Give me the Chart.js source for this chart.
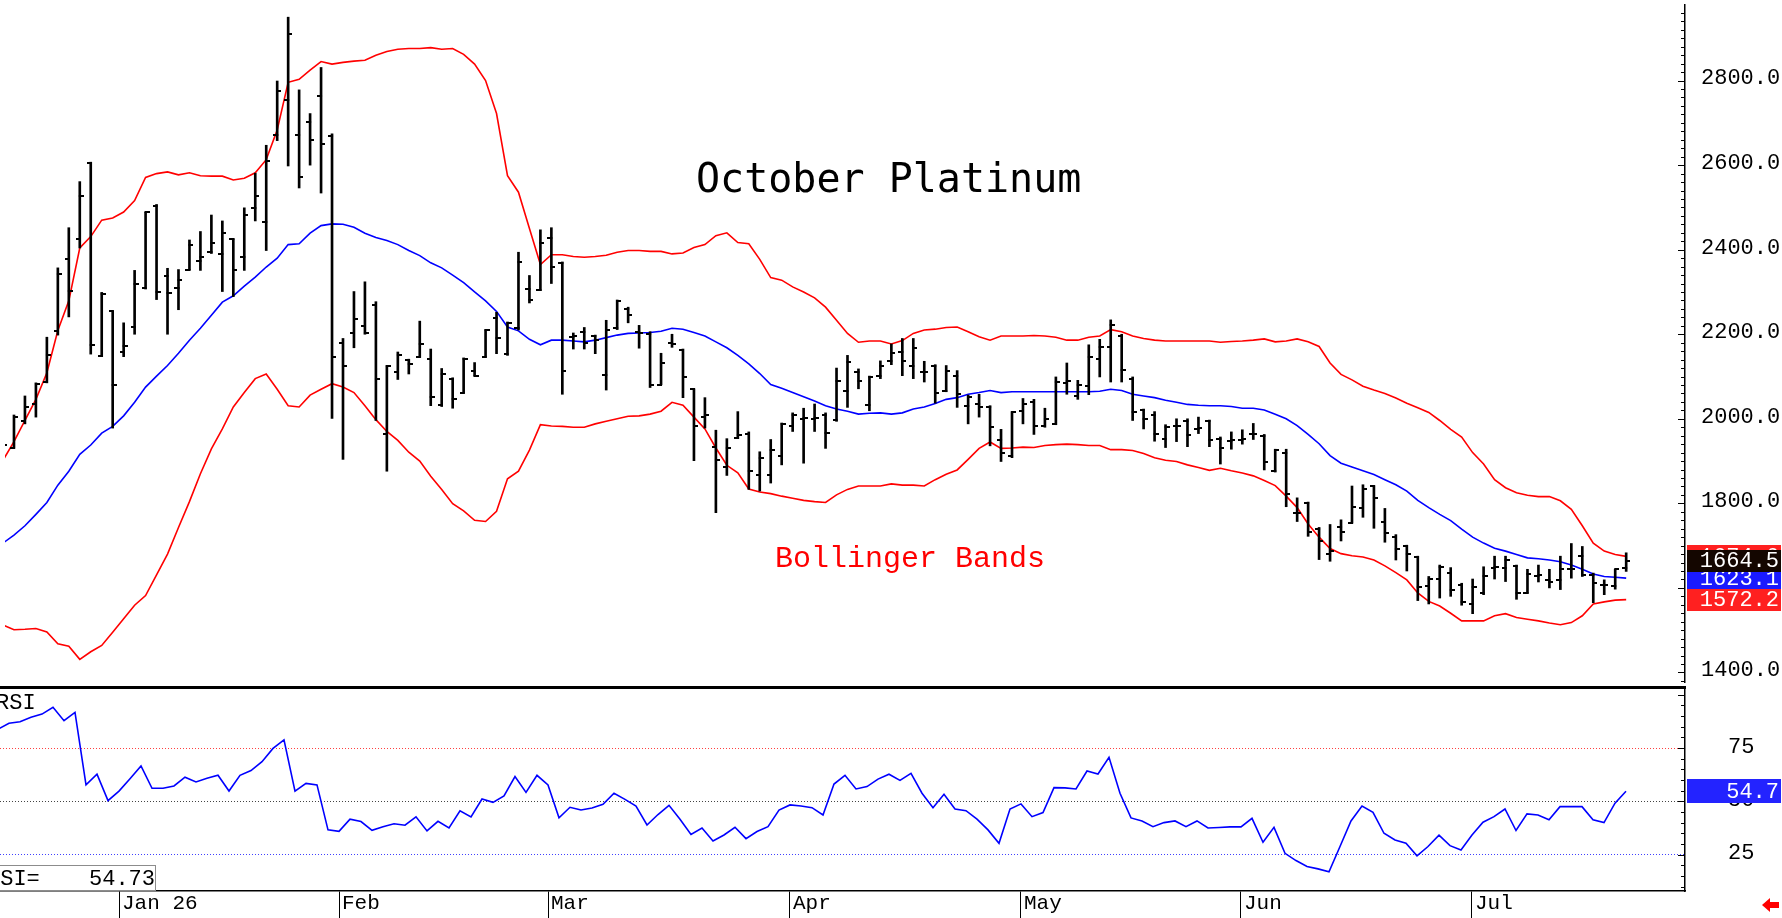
<!DOCTYPE html>
<html>
<head>
<meta charset="utf-8">
<script src="https://cdn.jsdelivr.net/npm/chart.js@4.4.1/dist/chart.umd.min.js"></script>
<style>
html, body { margin: 0; padding: 0; background: #fff; overflow: hidden; }
#wrap { position: relative; width: 1782px; height: 918px; overflow: hidden; }
canvas { position: absolute; left: 0; }
#c1 { top: 0; }
#c2 { top: 686px; }
.txt { position: absolute; white-space: pre; line-height: 1; }
#title { left: 696px; top: 155px; font: 40px "DejaVu Sans Mono"; color: #000; }
#bb { left: 775px; top: 542px; font: 30px "Liberation Mono"; color: #ff0000; }
#rsiName { left: -4px; top: 691px; font: 22px "Liberation Mono"; color: #000; }
#rsiBox { position: absolute; left: -2px; top: 865px; width: 158px; height: 26px; box-sizing: border-box; border: 1px solid #8c8c8c; }
#rsiEq { left: -13px; top: 867px; font: 22px "Liberation Mono"; color: #000; }
#rsiVal { right: 1627px; top: 867px; font: 22px "Liberation Mono"; color: #000; }
</style>
</head>
<body>
<div id="wrap">
<canvas id="c1" width="1782" height="687"></canvas>
<canvas id="c2" width="1782" height="232"></canvas>
<div class="txt" id="title">October Platinum</div>
<div class="txt" id="bb">Bollinger Bands</div>
<div class="txt" id="rsiName">RSI</div>
<div id="rsiBox"></div>
<div class="txt" id="rsiEq">RSI=</div>
<div class="txt" id="rsiVal"></div>
</div>
<script>
// month ticks (bar index of first trading day) and labels
var monthTicks = [11, 31, 50, 72, 93, 113, 134];
var monthLabels = ["Jan 26", "Feb", "Mar", "Apr", "May", "Jun", "Jul"];
var priceTicks = [1400, 1600, 1800, 2000, 2200, 2400, 2600, 2800];
var rsiTicks = [25, 50, 75];

// daily bars, mid Dec 2025 .. Jul 2026
var opens = [1915,1930,1994,2035,2087,2207,2378,2425,2604,2148,
  2254,2159,2217,2309,2503,2338,2309,2353,2373,2394,
  2390,2425,2383,2499,2466,2672,2753,2672,2703,2764,
  2670,2180,2202,2220,2270,1963,2110,2138,2147,2141,
  2032,2095,2062,2112,2145,2238,2154,2214,2308,2305,
  2427,2368,2193,2205,2196,2103,2214,2260,2206,2200,
  2081,2179,2162,2070,2005,1934,1887,1955,1965,1868,
  1868,1912,1983,2000,2000,2010,1996,2066,2110,2033,
  2102,2136,2159,2126,2110,2125,2066,2101,2031,2035,
  2028,1950,1911,2019,2040,1983,1988,2085,2053,2077,
  2141,2171,2195,2095,2020,2010,1952,1982,1995,1976,
  1995,1952,1947,1949,1963,1960,1876,1920,1778,1800,
  1740,1679,1743,1754,1790,1840,1755,1720,1700,1672,
  1605,1621,1635,1607,1562,1587,1646,1646,1652,1588,
  1628,1618,1619,1644,1675,1630,1607,1604,1646];
var highs = [1950,2009,2054,2085,2193,2357,2452,2561,2607,2299,
  2256,2227,2351,2489,2507,2356,2353,2423,2443,2482,
  2468,2426,2499,2581,2647,2799,2950,2778,2722,2831,
  2674,2190,2301,2324,2277,2126,2158,2141,2231,2165,
  2119,2097,2144,2133,2211,2252,2229,2394,2339,2447,
  2452,2371,2203,2216,2198,2233,2281,2264,2221,2206,
  2155,2200,2165,2071,2050,1973,1953,2017,1969,1922,
  1951,1990,2014,2025,2035,2014,2120,2150,2118,2101,
  2137,2177,2190,2190,2136,2128,2126,2114,2056,2058,
  2031,1975,2017,2048,2046,2025,2099,2132,2091,2175,
  2188,2234,2200,2099,2023,2017,1986,2000,2000,2004,
  1997,1957,1969,1974,1989,1963,1928,1928,1813,1803,
  1743,1750,1761,1841,1844,1842,1788,1726,1701,1675,
  1627,1654,1648,1611,1621,1650,1675,1675,1654,1644,
  1654,1644,1675,1705,1698,1635,1619,1644,1683];
var lows = [1900,1930,1988,2004,2085,2198,2241,2404,2153,2147,
  1978,2147,2200,2307,2282,2200,2258,2352,2351,2391,
  2301,2289,2351,2468,2398,2658,2598,2546,2600,2534,
  2001,1904,2168,2200,1996,1876,2093,2106,2145,2031,
  2029,2025,2060,2101,2145,2154,2150,2210,2274,2303,
  2320,2058,2165,2165,2154,2068,2211,2227,2167,2074,
  2081,2169,2050,1901,1978,1778,1866,1953,1833,1829,
  1848,1891,1970,1895,1970,1930,1994,2027,2071,2019,
  2095,2128,2102,2095,2087,2037,2064,2027,1988,2004,
  1936,1899,1908,1988,1963,1980,1986,2058,2046,2057,
  2099,2087,2087,1996,1976,1947,1932,1946,1934,1965,
  1934,1893,1928,1940,1951,1879,1874,1792,1757,1722,
  1667,1663,1711,1753,1767,1741,1708,1666,1640,1570,
  1562,1576,1580,1559,1539,1584,1621,1615,1573,1587,
  1614,1600,1596,1623,1627,1565,1584,1597,1639];
var closes = [1938,2005,2027,2083,2151,2342,2303,2528,2175,2296,
  2081,2173,2320,2488,2301,2297,2328,2412,2382,2416,
  2439,2353,2482,2528,2609,2775,2911,2572,2660,2649,
  2147,2126,2237,2202,2093,2124,2150,2130,2176,2052,
  2106,2048,2142,2101,2210,2192,2227,2371,2280,2415,
  2359,2114,2195,2180,2186,2210,2278,2246,2203,2079,
  2133,2178,2098,1984,2010,1903,1930,1961,1876,1907,
  1925,1988,2009,2001,2001,1967,2089,2135,2089,2099,
  2126,2155,2136,2167,2110,2062,2112,2058,2052,2029,
  1980,1920,2017,2035,1983,2000,2087,2089,2080,2147,
  2169,2221,2115,2015,2000,1963,1980,1984,1961,1978,
  1949,1930,1949,1953,1965,1898,1926,1821,1777,1732,
  1712,1687,1732,1792,1833,1812,1729,1693,1679,1601,
  1620,1650,1596,1566,1602,1629,1649,1666,1588,1632,
  1631,1615,1644,1644,1631,1612,1607,1644,1664.5];

// Bollinger bands
var upperBand = [1902,1946,1996,2046,2109,2209,2279,2404,2431,2470,
  2475,2489,2516,2571,2580,2584,2577,2582,2575,2574,
  2574,2565,2569,2582,2613,2683,2796,2803,2825,2845,
  2839,2843,2846,2848,2860,2869,2874,2876,2876,2878,
  2874,2876,2862,2839,2800,2722,2575,2536,2450,2365,
  2388,2388,2384,2382,2384,2387,2394,2398,2398,2396,
  2396,2390,2392,2405,2412,2433,2440,2417,2414,2377,
  2334,2328,2312,2300,2286,2264,2233,2202,2181,2184,
  2184,2177,2185,2202,2210,2212,2216,2217,2206,2194,
  2186,2196,2196,2196,2197,2196,2193,2186,2186,2193,
  2196,2211,2206,2196,2190,2186,2184,2184,2184,2184,
  2184,2181,2183,2184,2186,2189,2182,2184,2189,2182,
  2171,2132,2105,2092,2077,2068,2060,2049,2037,2026,
  2015,1996,1975,1957,1920,1893,1856,1837,1825,1819,
  1816,1816,1806,1786,1747,1706,1687,1679,1674.6];
var middleBand = [1706,1725,1747,1774,1802,1843,1876,1916,1938,1966,
  1982,2007,2039,2075,2101,2126,2155,2186,2214,2245,
  2276,2291,2314,2335,2359,2380,2412,2414,2439,2457,
  2461,2460,2453,2439,2429,2422,2412,2398,2386,2369,
  2357,2340,2322,2300,2279,2254,2217,2208,2188,2175,
  2186,2186,2184,2182,2186,2192,2198,2202,2203,2204,
  2207,2214,2212,2204,2196,2182,2168,2150,2130,2107,
  2081,2072,2062,2052,2042,2031,2023,2018,2011,2013,
  2014,2011,2014,2023,2028,2036,2046,2050,2058,2062,
  2067,2062,2064,2064,2064,2064,2064,2064,2064,2064,
  2065,2070,2067,2058,2054,2050,2044,2039,2034,2032,
  2031,2031,2029,2025,2025,2021,2011,2000,1984,1963,
  1941,1913,1895,1886,1877,1868,1856,1844,1829,1807,
  1790,1774,1759,1739,1720,1706,1694,1687,1679,1671,
  1669,1666,1662,1654,1644,1633,1627,1625,1623.1];
var lowerBand = [1512,1501,1502,1504,1496,1468,1462,1431,1449,1464,
  1495,1527,1559,1582,1631,1680,1743,1804,1870,1929,
  1976,2028,2062,2095,2106,2070,2031,2028,2056,2070,
  2083,2075,2062,2031,1998,1970,1949,1921,1900,1864,
  1833,1799,1782,1760,1757,1781,1858,1876,1926,1986,
  1983,1982,1980,1980,1988,1994,2000,2006,2007,2011,
  2018,2039,2032,2004,1976,1931,1890,1872,1834,1827,
  1823,1817,1812,1807,1804,1802,1820,1833,1841,1841,
  1841,1846,1843,1843,1841,1856,1869,1879,1904,1930,
  1945,1930,1931,1933,1932,1937,1939,1940,1939,1937,
  1937,1927,1927,1925,1918,1908,1902,1899,1891,1885,
  1878,1883,1877,1872,1865,1854,1842,1817,1790,1751,
  1720,1693,1681,1676,1673,1666,1652,1636,1619,1588,
  1568,1557,1540,1522,1522,1522,1534,1539,1530,1526,
  1522,1517,1513,1518,1534,1562,1567,1571,1572.2];

// RSI
var rsi = [83.8,86.6,87.3,89.4,90.9,94.1,87.8,91.7,57.7,62.7,
  50.3,54.8,60.6,66.6,56.1,56.1,57.2,61.3,59.1,60.8,
  62.2,54.8,62.2,64.4,68.6,74.8,78.8,54.8,58.4,57.7,
  36.6,35.9,41.6,40.5,36.4,38.1,39.5,38.8,42.7,36.1,
  40.6,37.5,45.5,42.7,51.1,49.5,52.5,61.6,54.2,62.2,
  57.7,42.3,47.2,45.9,46.9,48.6,53.8,50.9,47.8,38.9,
  43.8,48.1,41.6,34.5,37.5,31.4,34.2,37.8,32.5,35.8,
  38.1,45.9,48.3,47.8,47.0,43.6,58.1,62.2,55.8,56.9,
  60.4,62.7,59.8,63.1,53.8,47.0,53.3,46.4,45.6,41.6,
  36.6,30.3,46.4,48.8,42.8,44.7,56.4,56.3,55.8,64.2,
  62.8,70.6,53.8,42.2,40.8,38.1,40.0,40.8,38.1,40.8,
  37.5,37.7,38.0,38.0,42.0,30.8,37.8,25.6,22.2,19.4,
  18.3,16.9,28.8,40.8,47.8,44.8,35.0,31.9,30.3,24.4,
  28.8,34.1,29.2,27.2,34.2,40.2,42.8,46.4,36.3,44.1,
  43.6,41.3,47.5,47.5,47.5,41.3,40.0,49.1,54.73];

var last = closes.length - 1;
var xMin = 2 / 11;
var xMax = xMin + 1685 / 11;
var monoFont = "Liberation Mono";

document.getElementById("rsiVal").textContent = rsi[last].toFixed(2);

function pts(arr) {
    return arr.map(function (v, i) { return { x: i, y: v }; });
}

// little open / close ticks for the OHLC bars
function tickImage(side) {
    var c = document.createElement("canvas");
    c.width = 8; c.height = 2;
    var g = c.getContext("2d");
    g.fillStyle = "#000";
    if (side === "left") g.fillRect(0, 0, 5, 2); else g.fillRect(3, 0, 5, 2);
    return c;
}

function valueBox(ctx, left, y, h, bg, text) {
    ctx.fillStyle = bg;
    ctx.fillRect(left, Math.round(y - h / 2), 1781 - left, h);
    ctx.fillStyle = "#fff";
    ctx.font = "22px \"" + monoFont + "\"";
    ctx.textAlign = "right";
    ctx.textBaseline = "middle";
    ctx.fillText(text, 1779, y + 1);
}

var priceDecor = {
    id: "priceDecor",
    afterDraw: function (chart) {
        var ctx = chart.ctx, a = chart.chartArea, y = chart.scales.y;
        ctx.save();
        ctx.strokeStyle = "#000";
        ctx.lineWidth = 1;
        for (var v = 1380; v <= 2960; v += 20) {
            var py = Math.round(y.getPixelForValue(v)) + 0.5;
            var len = v % 200 === 0 ? 7 : 4;
            ctx.beginPath();
            ctx.moveTo(a.right - len, py);
            ctx.lineTo(a.right, py);
            ctx.stroke();
        }
        var L = a.right + 2;
        valueBox(ctx, L, y.getPixelForValue(upperBand[last]), 22, "#ff2020", upperBand[last].toFixed(1));
        valueBox(ctx, L, y.getPixelForValue(middleBand[last]), 22, "#1a1aff", middleBand[last].toFixed(1));
        valueBox(ctx, L, y.getPixelForValue(lowerBand[last]), 22, "#ff2020", lowerBand[last].toFixed(1));
        valueBox(ctx, L, y.getPixelForValue(closes[last]), 22, "#140600", closes[last].toFixed(1));
        ctx.restore();
    }
};

var rsiDecor = {
    id: "rsiDecor",
    afterDraw: function (chart) {
        var ctx = chart.ctx, a = chart.chartArea, y = chart.scales.y;
        ctx.save();
        ctx.fillStyle = "#000";
        ctx.fillRect(0, 0, a.right + 1, 3);
        ctx.strokeStyle = "#000";
        ctx.lineWidth = 1;
        for (var v = 10; v <= 100; v += 5) {
            var py = Math.round(y.getPixelForValue(v)) + 0.5;
            var len = v % 25 === 0 ? 7 : 4;
            ctx.beginPath();
            ctx.moveTo(a.right - len, py);
            ctx.lineTo(a.right, py);
            ctx.stroke();
        }
        valueBox(ctx, a.right + 2, y.getPixelForValue(rsi[last]), 24, "#2323ff", rsi[last].toFixed(1));
        // red arrow bottom right
        ctx.fillStyle = "#ff0000";
        ctx.beginPath();
        ctx.moveTo(1762, 219);
        ctx.lineTo(1770, 212);
        ctx.lineTo(1770, 226);
        ctx.closePath();
        ctx.fill();
        ctx.fillRect(1769, 216, 10, 6);
        ctx.restore();
    }
};

new Chart(document.getElementById("c1"), {
    type: "bar",
    data: {
        datasets: [{
            type: "scatter",
            data: pts(opens),
            pointStyle: tickImage("left"),
            pointRadius: 3,
            order: 0
        }, {
            type: "scatter",
            data: pts(closes),
            pointStyle: tickImage("right"),
            pointRadius: 3,
            order: 0
        }, {
            type: "bar",
            data: highs.map(function (h, i) { return { x: i, y: [lows[i], h] }; }),
            backgroundColor: "#000",
            barThickness: 2,
            grouped: false,
            order: 1
        }, {
            type: "line",
            data: pts(upperBand),
            borderColor: "#ff0000",
            borderWidth: 1.6,
            pointRadius: 0,
            order: 2
        }, {
            type: "line",
            data: pts(middleBand),
            borderColor: "#0000ff",
            borderWidth: 1.6,
            pointRadius: 0,
            order: 2
        }, {
            type: "line",
            data: pts(lowerBand),
            borderColor: "#ff0000",
            borderWidth: 1.6,
            pointRadius: 0,
            order: 2
        }]
    },
    options: {
        responsive: false,
        animation: false,
        layout: { padding: 0 },
        plugins: { legend: { display: false }, tooltip: { enabled: false } },
        scales: {
            x: { type: "linear", display: false, min: xMin, max: xMax, offset: false, grid: { offset: false } },
            y: {
                position: "right",
                min: 1377.4,
                max: 2978.8,
                afterBuildTicks: function (s) { s.ticks = priceTicks.map(function (v) { return { value: v }; }); },
                afterFit: function (s) { s.width = 97; s.paddingTop = 0; s.paddingBottom = 0; },
                grid: { display: false, drawTicks: false },
                border: { display: true, color: "#000", width: 1.5 },
                ticks: {
                    crossAlign: "near",
                    padding: 16,
                    labelOffset: -2,
                    color: "#000",
                    font: { family: monoFont, size: 22 },
                    callback: function (v) { return v.toFixed(1); }
                }
            }
        }
    },
    plugins: [priceDecor]
});

new Chart(document.getElementById("c2"), {
    type: "line",
    data: {
        datasets: [{
            data: pts(rsi),
            borderColor: "#0000ff",
            borderWidth: 1.6,
            pointRadius: 0
        }]
    },
    options: {
        responsive: false,
        animation: false,
        layout: { padding: 0 },
        plugins: { legend: { display: false }, tooltip: { enabled: false } },
        scales: {
            x: {
                type: "linear",
                min: xMin,
                max: xMax,
                offset: false,
                afterBuildTicks: function (s) { s.ticks = monthTicks.map(function (v) { return { value: v }; }); },
                afterFit: function (s) { s.height = 27; s.paddingLeft = 0; s.paddingRight = 0; },
                grid: { drawOnChartArea: false, drawTicks: true, tickLength: 27, tickColor: "#000", tickWidth: 1, offset: false },
                border: { display: true, color: "#000", width: 1.5 },
                ticks: {
                    autoSkip: false,
                    maxRotation: 0,
                    align: "start",
                    padding: -27,
                    labelOffset: 3,
                    color: "#000",
                    font: { family: monoFont, size: 21 },
                    callback: function (v, i) { return monthLabels[i]; }
                }
            },
            y: {
                position: "right",
                min: 7.93,
                max: 104.08,
                afterBuildTicks: function (s) { s.ticks = rsiTicks.map(function (v) { return { value: v }; }); },
                afterFit: function (s) { s.width = 97; s.paddingTop = 0; s.paddingBottom = 0; },
                grid: {
                    drawTicks: false,
                    lineWidth: 1,
                    color: function (c) {
                        if (!c.tick) return "#000";
                        return c.tick.value === 75 ? "#ff4040" : (c.tick.value === 50 ? "#444" : "#4040ff");
                    }
                },
                border: { display: true, color: "#000", width: 1.5, dash: [1, 2] },
                ticks: {
                    crossAlign: "near",
                    padding: 43,
                    labelOffset: -1,
                    color: "#000",
                    font: { family: monoFont, size: 22 }
                }
            }
        }
    },
    plugins: [rsiDecor]
});
</script>
</body>
</html>
